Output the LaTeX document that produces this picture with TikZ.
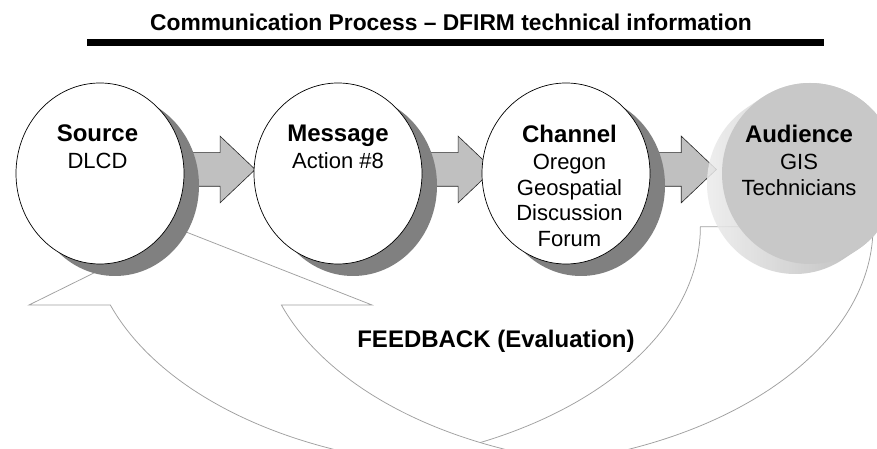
\documentclass[tikz,border=0pt]{standalone}
\usepackage{fontspec}
\setmainfont{Liberation Sans}
\usetikzlibrary{shapes.geometric, shapes.arrows, shadows, calc, backgrounds}
\definecolor{shadowcol}{RGB}{128,128,128}
\definecolor{arrowcol}{RGB}{192,192,192}
\definecolor{audcol}{RGB}{200,200,200}
\definecolor{bandcol}{RGB}{160,160,160}
\newcommand{\stagehead}[1]{{\fontsize{24}{25.8}\selectfont\bfseries #1}}

\begin{document}
\begin{tikzpicture}[
  x=1pt, y=1pt,
  stage/.style={ellipse, draw=black, line width=0.7pt, fill=white,
                minimum width=168pt, minimum height=181pt, inner sep=0pt,
                drop shadow={shadow xshift=15pt, shadow yshift=-12pt,
                             fill=shadowcol, opacity=1}},
  audface/.style={ellipse, fill=audcol, minimum width=176pt,
                  minimum height=181pt, inner sep=0pt},
  stagetext/.style={align=center, anchor=north, inner sep=0pt,
                    font=\fontsize{22}{25.8}\selectfont},
  blockarrow/.style={single arrow, draw=black!85, line width=0.6pt,
                     fill=arrowcol, inner xsep=0pt, inner ysep=16.5pt,
                     minimum height=82pt, single arrow head extend=16.5pt,
                     single arrow tip angle=87, anchor=tip},
  fbband/.style={draw=bandcol, line width=0.75pt, fill=white},
  titletext/.style={font=\fontsize{22.8}{27}\selectfont\bfseries,
                    anchor=base, inner sep=0pt},
  fbtext/.style={font=\fontsize{24}{28}\selectfont\bfseries,
                 anchor=base, inner sep=0pt}
]
  \useasboundingbox (0,0) rectangle (877,449);
  \clip (0,0) rectangle (877,449);

  \node[titletext] (title) at (451,418.5)
    {Communication Process – DFIRM technical information};
  \fill (87,402.5) rectangle (824,410);

  % the four stages
  \node[stage] (src) at (100,275.5) {};
  \node[stage] (msg) at (338,275.5) {};
  \node[stage] (chan) at (566,275.5) {};
  \coordinate (audc) at (810,275.5);
  \shade[left color=gray!12, right color=gray!70, opacity=0.85]
    ($(audc)+(-57.05:88 and 90.5)$)
    arc[start angle=-57.05, end angle=122.95, x radius=88, y radius=90.5]
    -- ++(-15,-10)
    arc[start angle=122.95, end angle=302.95, x radius=88, y radius=90.5]
    -- cycle;
  \node[audface] (aud) at (audc) {};

  \node[stagetext] (srctext) at ($(src.center)+(-2.5,49)$)
    {\stagehead{Source}\\[1.5pt]DLCD};
  \node[stagetext] (msgtext) at ($(msg.center)+(0,49)$)
    {\stagehead{Message}\\[1.5pt]Action \#8};
  \node[stagetext] (chantext) at ($(chan.center)+(3.5,49)$)
    {\stagehead{Channel}\\[1.5pt]Oregon\\Geospatial\\Discussion\\Forum};
  \node[stagetext] (audtext) at ($(aud.center)+(-11,49)$)
    {\stagehead{Audience}\\[1.5pt]GIS\\Technicians};

  \node[fbtext] (fb) at (496,101.7) {FEEDBACK (Evaluation)};

  \begin{scope}[on background layer]
    \fill[white] (0,0) rectangle (877,449);
    % feedback band
    \draw[fbband] (29,144) -- (181,219) -- (372,144) -- (281.4,144)
      arc[start angle=199, end angle=244, x radius=392, y radius=240]
      coordinate (fold)
      arc[start angle=296, end angle=360, x radius=392, y radius=240]
      -- (873,222.1)
      arc[start angle=0, end angle=-161, x radius=392, y radius=240]
      -- cycle;
    \draw[fbband, fill=none] (fold)
      arc[start angle=244, end angle=258, x radius=392, y radius=240];
    % flow arrows
    \node[blockarrow] (ar1) at ($(msg.west)+(2,4)$) {};
    \node[blockarrow] (ar2) at ($(chan.west)+(12,4)$) {};
    \node[blockarrow] (ar3) at ($(aud.west)+(-5,4)$) {};
  \end{scope}
\end{tikzpicture}
\end{document}
